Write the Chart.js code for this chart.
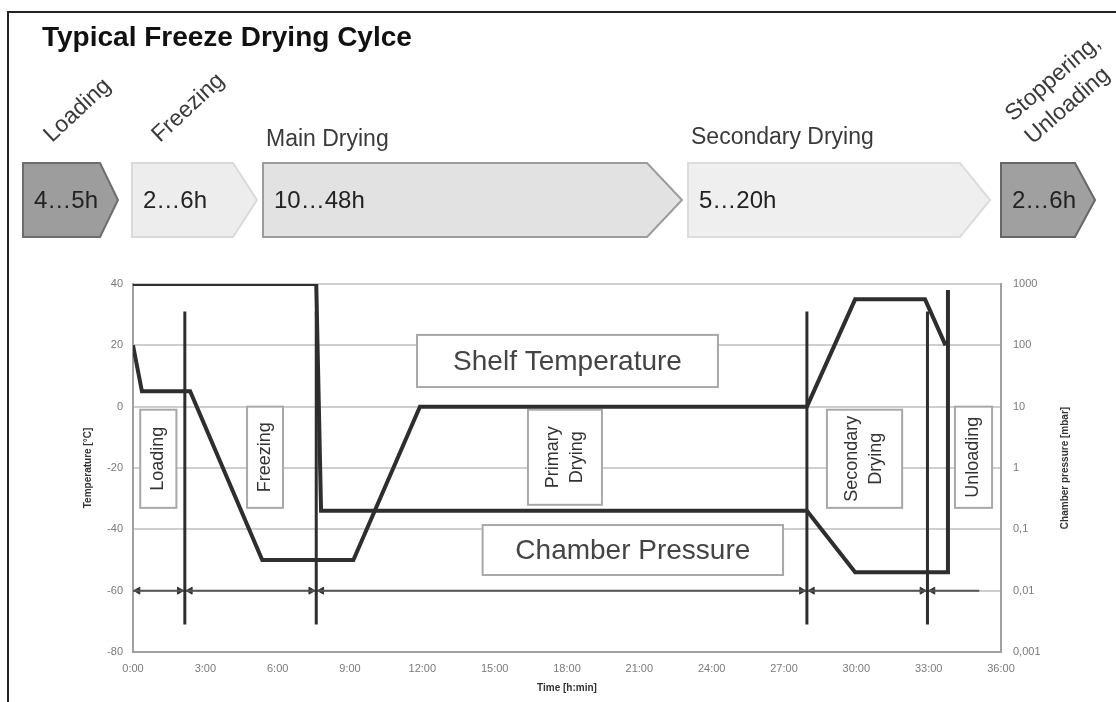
<!DOCTYPE html>
<html>
<head>
<meta charset="utf-8">
<title>Typical Freeze Drying Cylce</title>
<script src="https://cdn.jsdelivr.net/npm/chart.js@4.4.1/dist/chart.umd.min.js"></script>
<style>
  html, body { margin: 0; padding: 0; background: #fff; }
  #wrap { position: relative; width: 1116px; height: 702px; }
</style>
</head>
<body>
<div id="wrap"><canvas id="freezeChart"></canvas></div>
<script>
// --- Données du cycle ---
const timeTicks = [0, 3, 6, 9, 12, 15, 18, 21, 24, 27, 30, 33, 36];
const timeTickLabels = ['0:00', '3:00', '6:00', '9:00', '12:00', '15:00', '18:00', '21:00', '24:00', '27:00', '30:00', '33:00', '36:00'];
const tempTicks = [-80, -60, -40, -20, 0, 20, 40];
const pressureTicks = [0.001, 0.01, 0.1, 1, 10, 100, 1000];
const pressureTickLabels = ['0,001', '0,01', '0,1', '1', '10', '100', '1000'];

// Température des étagères (°C)
const shelfTime = [0, 0.37, 2.37, 5.36, 9.14, 11.9, 27.95, 29.95, 32.85, 33.7];
const shelfTemp = [20, 5, 5, -50, -50, 0, 0, 35, 35, 20];

// Pression de la chambre (mbar)
const pressureTime = [0, 7.6, 7.8, 27.95, 29.95, 33.8, 33.8];
const pressureValue = [1000, 1000, 0.2, 0.2, 0.02, 0.02, 800];

// Séparateurs de phases
const phaseDividers = [2.15, 7.6, 27.95, 32.95];
const dividerRange = [31, -71];
const phaseSpan = [0, 35.1];
const phaseSpanLevel = -60;

const stageNames = ['Loading', 'Freezing', 'Main Drying', 'Secondary Drying', 'Stoppering,\nUnloading'];
const stageDurations = ['4…5h', '2…6h', '10…48h', '5…20h', '2…6h'];
const phaseLabels = ['Loading', 'Freezing', 'Primary\nDrying', 'Secondary\nDrying', 'Unloading'];
const curveLabels = ['Shelf Temperature', 'Chamber Pressure'];

// --- Mise en page ---
const FONT = "'Liberation Sans', Arial, sans-serif";
const LINE = '#2e2e2e';

// chevrons: x début, fin du corps, pointe, remplissage, bordure
const chevrons = [
    [23, 100, 118, '#9d9d9d', '#6c6c6c'],
    [132, 233, 257, '#ededed', '#dadada'],
    [263, 647, 682, '#e2e2e2', '#9c9c9c'],
    [688, 960, 990, '#efefef', '#dcdcdc'],
    [1001, 1075, 1095, '#a0a0a0', '#666666']
];
// libellés au-dessus: x, y, rotation
const stageLabelPos = [
    [52, 143, -43],
    [160, 143, -43],
    [266, 146, 0],
    [691, 144, 0],
    [1013, 122, -41]
];
// boîtes (heures / °C): x0, x1, y0, y1
const phaseBoxes = [
    [0.3, 1.8, -1, -33],
    [4.73, 6.22, 0, -33],
    [16.38, 19.45, -1, -32],
    [28.78, 31.9, -1, -33],
    [34.09, 35.63, 0, -33]
];
const curveBoxes = [
    [11.78, 24.26, 23.4, 6.4],
    [14.5, 26.96, -38.6, -54.9]
];

function pts(xs, ys) {
    return xs.map((x, i) => ({ x: x, y: ys[i] }));
}

const datasets = [];

datasets.push({
    label: 'Shelf Temperature',
    data: pts(shelfTime, shelfTemp),
    yAxisID: 'y',
    borderColor: LINE,
    borderWidth: 4,
    showLine: true,
    pointRadius: 0
});

datasets.push({
    label: 'Chamber Pressure',
    data: pts(pressureTime, pressureValue),
    yAxisID: 'y2',
    borderColor: LINE,
    borderWidth: 4,
    showLine: true,
    pointRadius: 0
});

phaseDividers.forEach(t => {
    datasets.push({
        data: pts([t, t], dividerRange),
        yAxisID: 'y',
        borderColor: LINE,
        borderWidth: 3,
        showLine: true,
        pointRadius: 0
    });
});

datasets.push({
    data: pts(phaseSpan, [phaseSpanLevel, phaseSpanLevel]),
    yAxisID: 'y',
    borderColor: '#555',
    borderWidth: 2,
    showLine: true,
    pointRadius: 0
});

// flèches de cote autour des séparateurs
const leftHeads = [phaseSpan[0] + 0.2].concat(phaseDividers.map(t => t + 0.22));
const rightHeads = phaseDividers.map(t => t - 0.22);
datasets.push({
    data: leftHeads.map(x => ({ x: x, y: phaseSpanLevel })),
    yAxisID: 'y',
    pointStyle: 'triangle',
    rotation: -90,
    pointRadius: 4,
    backgroundColor: '#333',
    borderColor: '#333',
    showLine: false
});
datasets.push({
    data: rightHeads.map(x => ({ x: x, y: phaseSpanLevel })),
    yAxisID: 'y',
    pointStyle: 'triangle',
    rotation: 90,
    pointRadius: 4,
    backgroundColor: '#333',
    borderColor: '#333',
    showLine: false
});

const decorPlugin = {
    id: 'decor',
    beforeDatasetsDraw(chart) {
        const ctx = chart.ctx;
        const sx = chart.scales.x, sy = chart.scales.y;
        ctx.save();
        ctx.lineWidth = 2;
        ctx.strokeStyle = '#a8a8a8';

        // boîtes verticales
        phaseBoxes.forEach((b, i) => {
            const x0 = sx.getPixelForValue(b[0]), x1 = sx.getPixelForValue(b[1]);
            const y0 = sy.getPixelForValue(b[2]), y1 = sy.getPixelForValue(b[3]);
            ctx.fillStyle = '#fff';
            ctx.fillRect(x0, y0, x1 - x0, y1 - y0);
            ctx.strokeRect(x0, y0, x1 - x0, y1 - y0);
            const lines = phaseLabels[i].split('\n');
            ctx.save();
            ctx.translate((x0 + x1) / 2, (y0 + y1) / 2);
            ctx.rotate(-Math.PI / 2);
            ctx.fillStyle = '#333';
            ctx.font = '18px ' + FONT;
            ctx.textAlign = 'center';
            ctx.textBaseline = 'middle';
            const lh = 24;
            lines.forEach((l, k) => ctx.fillText(l, 0, (k - (lines.length - 1) / 2) * lh));
            ctx.restore();
        });

        // boîtes des courbes
        curveBoxes.forEach((b, i) => {
            const x0 = sx.getPixelForValue(b[0]), x1 = sx.getPixelForValue(b[1]);
            const y0 = sy.getPixelForValue(b[2]), y1 = sy.getPixelForValue(b[3]);
            ctx.fillStyle = '#fff';
            ctx.fillRect(x0, y0, x1 - x0, y1 - y0);
            ctx.strokeRect(x0, y0, x1 - x0, y1 - y0);
            ctx.fillStyle = '#444';
            ctx.font = '28px ' + FONT;
            ctx.textAlign = 'center';
            ctx.textBaseline = 'middle';
            ctx.fillText(curveLabels[i], (x0 + x1) / 2, (y0 + y1) / 2 + 1);
        });
        ctx.restore();
    },
    afterDraw(chart) {
        const ctx = chart.ctx;
        const area = chart.chartArea;
        ctx.save();

        // cadre
        ctx.strokeStyle = '#222';
        ctx.lineWidth = 2;
        ctx.beginPath();
        ctx.moveTo(8, 702);
        ctx.lineTo(8, 12);
        ctx.lineTo(1116, 12);
        ctx.stroke();

        // titre
        ctx.fillStyle = '#111';
        ctx.font = 'bold 28px ' + FONT;
        ctx.textAlign = 'left';
        ctx.textBaseline = 'alphabetic';
        ctx.fillText('Typical Freeze Drying Cylce', 42, 46);

        // chevrons des étapes
        chevrons.forEach((c, i) => {
            const top = 163, bot = 237, mid = 200;
            ctx.beginPath();
            ctx.moveTo(c[0], top);
            ctx.lineTo(c[1], top);
            ctx.lineTo(c[2], mid);
            ctx.lineTo(c[1], bot);
            ctx.lineTo(c[0], bot);
            ctx.closePath();
            ctx.fillStyle = c[3];
            ctx.fill();
            ctx.strokeStyle = c[4];
            ctx.lineWidth = 2;
            ctx.stroke();
            ctx.fillStyle = '#222';
            ctx.font = '24px ' + FONT;
            ctx.textBaseline = 'middle';
            ctx.fillText(stageDurations[i], c[0] + 11, mid + 1);
        });

        // libellés des étapes
        ctx.fillStyle = '#3a3a3a';
        ctx.font = '23px ' + FONT;
        ctx.textBaseline = 'alphabetic';
        stageNames.forEach((name, i) => {
            const p = stageLabelPos[i];
            ctx.save();
            ctx.translate(p[0], p[1]);
            ctx.rotate(p[2] * Math.PI / 180);
            name.split('\n').forEach((l, k) => ctx.fillText(l, 0, k * 30));
            ctx.restore();
        });

        // titres des axes
        const midY = (area.top + area.bottom) / 2;
        ctx.fillStyle = '#333';
        ctx.font = 'bold 10px ' + FONT;
        ctx.textAlign = 'center';
        ctx.textBaseline = 'middle';
        [[88, 'Temperature [°C]'], [1065, 'Chamber pressure [mbar]']].forEach(t => {
            ctx.save();
            ctx.translate(t[0], midY);
            ctx.rotate(-Math.PI / 2);
            ctx.fillText(t[1], 0, 0);
            ctx.restore();
        });
        ctx.fillText('Time [h:min]', (area.left + area.right) / 2, 688);
        ctx.restore();
    }
};

const ctx = document.getElementById('freezeChart').getContext('2d');
Chart.defaults.font.family = FONT;

new Chart(ctx, {
    type: 'scatter',
    data: { datasets: datasets },
    options: {
        responsive: true,
        maintainAspectRatio: false,
        animation: false,
        layout: { padding: { top: 284, left: 0, right: 0, bottom: 0 } },
        plugins: {
            legend: { display: false },
            tooltip: { enabled: false }
        },
        elements: { line: { tension: 0 } },
        scales: {
            x: {
                type: 'linear',
                min: 0,
                max: 36,
                afterBuildTicks: function(scale) {
                    scale.ticks = timeTicks.map(v => ({ value: v }));
                },
                afterFit: function(scale) { scale.height = 50; },
                ticks: {
                    color: '#7a7a7a',
                    font: { size: 11 },
                    padding: 10,
                    maxRotation: 0,
                    callback: function(value) {
                        return timeTickLabels[timeTicks.indexOf(value)];
                    }
                },
                grid: { display: false, drawTicks: false },
                border: { color: '#a0a0a0', width: 2 }
            },
            y: {
                position: 'left',
                min: -80,
                max: 40,
                afterBuildTicks: function(scale) {
                    scale.ticks = tempTicks.map(v => ({ value: v }));
                },
                afterFit: function(scale) { scale.width = 133; },
                ticks: {
                    color: '#7a7a7a',
                    font: { size: 11 },
                    padding: 10
                },
                grid: { color: '#cfcfcf', lineWidth: 2, drawTicks: false },
                border: { color: '#a0a0a0', width: 2 }
            },
            y2: {
                type: 'logarithmic',
                position: 'right',
                min: 0.001,
                max: 1000,
                afterBuildTicks: function(scale) {
                    scale.ticks = pressureTicks.map(v => ({ value: v }));
                },
                afterFit: function(scale) { scale.width = 115; },
                ticks: {
                    color: '#7a7a7a',
                    font: { size: 11 },
                    padding: 12,
                    callback: function(value) {
                        return pressureTickLabels[pressureTicks.indexOf(value)];
                    }
                },
                grid: { display: false, drawTicks: false },
                border: { color: '#a0a0a0', width: 2 }
            }
        }
    },
    plugins: [decorPlugin]
});
</script>
</body>
</html>
